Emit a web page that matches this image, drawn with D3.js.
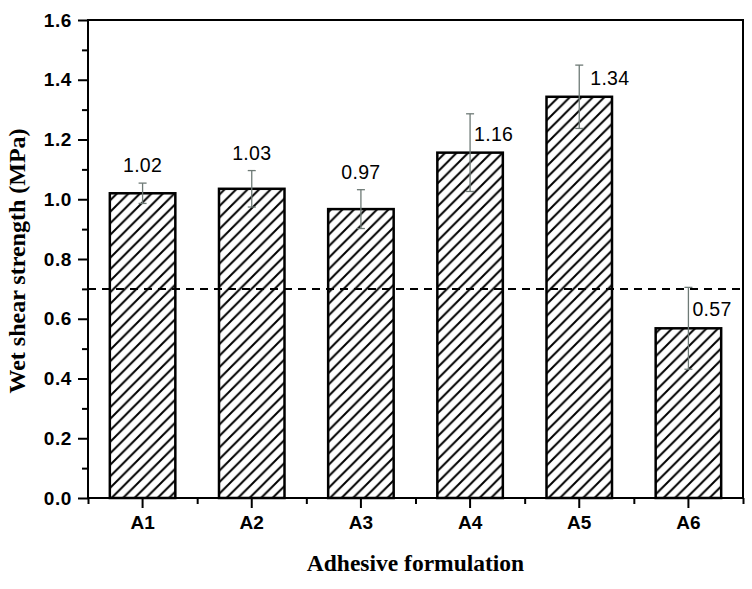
<!DOCTYPE html>
<html>
<head>
<meta charset="utf-8">
<script src="https://cdn.jsdelivr.net/npm/d3@7"></script>
<style>
  body { margin: 0; background: #fff; }
  svg { display: block; }
</style>
</head>
<body>
<div id="chart"></div>
<script>
const categories = ["A1", "A2", "A3", "A4", "A5", "A6"];
const strength = [1.02, 1.035, 0.967, 1.156, 1.343, 0.568];
const errors = [0.034, 0.061, 0.065, 0.13, 0.106, 0.137];
const valueLabels = ["1.02", "1.03", "0.97", "1.16", "1.34", "0.57"];
const yTicks = [0, 0.2, 0.4, 0.6, 0.8, 1.0, 1.2, 1.4, 1.6];
const yMinorTicks = [0.1, 0.3, 0.5, 0.7, 0.9, 1.1, 1.3, 1.5];
const threshold = 0.7;

const width = 752, height = 589;
const margin = { top: 20, right: 9, bottom: 91, left: 88 };
const sans = "Arial, 'Liberation Sans', sans-serif";
const serif = "'Times New Roman', 'Liberation Serif', serif";

const svg = d3.select("#chart").append("svg")
  .attr("width", width)
  .attr("height", height);

// hatch pattern
const pat = svg.append("defs").append("pattern")
  .attr("id", "hatch")
  .attr("patternUnits", "userSpaceOnUse")
  .attr("width", 11.5)
  .attr("height", 11.5);
pat.append("rect").attr("width", 11.5).attr("height", 11.5).attr("fill", "#fff");
pat.append("path")
  .attr("d", "M-2,2 L2,-2 M0,11.5 L11.5,0 M9.5,13.5 L13.5,9.5")
  .attr("stroke", "#000")
  .attr("stroke-width", 2);

const x = d3.scaleBand()
  .domain(categories)
  .range([margin.left, width - margin.right])
  .paddingInner(0.4)
  .paddingOuter(0.2);

const xMinor = d3.scaleLinear()
  .domain([0, categories.length])
  .range([margin.left, width - margin.right]);

const y = d3.scaleLinear()
  .domain([0, 1.6])
  .range([height - margin.bottom, margin.top]);

const data = categories.map((c, i) => ({
  cat: c, v: strength[i], e: errors[i], label: valueLabels[i], i
}));

// bars
svg.append("g")
  .selectAll("rect")
  .data(data)
  .join("rect")
  .attr("x", d => x(d.cat))
  .attr("y", d => y(d.v))
  .attr("width", x.bandwidth())
  .attr("height", d => y(0) - y(d.v))
  .attr("fill", "url(#hatch)")
  .attr("stroke", "#000")
  .attr("stroke-width", 2.5);

// threshold line
svg.append("line")
  .attr("x1", margin.left)
  .attr("x2", width - margin.right)
  .attr("y1", y(threshold))
  .attr("y2", y(threshold))
  .attr("stroke", "#000")
  .attr("stroke-width", 2)
  .attr("stroke-dasharray", "8,6");

// error bars
const eb = svg.append("g")
  .attr("stroke", "#6e7a76")
  .attr("stroke-width", 1.3);
data.forEach(d => {
  const cx = x(d.cat) + x.bandwidth() / 2;
  eb.append("line").attr("x1", cx).attr("x2", cx)
    .attr("y1", y(d.v + d.e)).attr("y2", y(d.v - d.e));
  eb.append("line").attr("x1", cx - 4).attr("x2", cx + 4)
    .attr("y1", y(d.v + d.e)).attr("y2", y(d.v + d.e));
  eb.append("line").attr("x1", cx - 4).attr("x2", cx + 4)
    .attr("y1", y(d.v - d.e)).attr("y2", y(d.v - d.e));
});

// value labels
svg.append("g")
  .selectAll("text")
  .data(data)
  .join("text")
  .attr("x", d => {
    const cx = x(d.cat) + x.bandwidth() / 2;
    return d.i < 3 ? cx : cx + (d.i === 4 ? 11 : 4);
  })
  .attr("y", d => d.i < 3 ? y(d.v + d.e) - 11 : y(d.v) - 12)
  .attr("text-anchor", d => d.i < 3 ? "middle" : "start")
  .style("font-family", sans)
  .style("font-size", "19.5px")
  .style("letter-spacing", "0.3px")
  .text(d => d.label);

// frame
svg.append("rect")
  .attr("x", margin.left)
  .attr("y", margin.top)
  .attr("width", width - margin.left - margin.right)
  .attr("height", height - margin.top - margin.bottom)
  .attr("fill", "none")
  .attr("stroke", "#000")
  .attr("stroke-width", 2);

// y axis
const yAxis = svg.append("g")
  .attr("transform", `translate(${margin.left},0)`)
  .call(d3.axisLeft(y).tickValues(yTicks).tickSize(10).tickPadding(6)
    .tickFormat(d3.format(".1f")));
yAxis.selectAll("text")
  .style("font-family", sans)
  .style("font-weight", "bold")
  .style("font-size", "19px")
  .style("letter-spacing", "0.6px");

svg.append("g")
  .attr("transform", `translate(${margin.left},0)`)
  .call(d3.axisLeft(y).tickValues(yMinorTicks).tickSize(6).tickFormat(""));

// x axis
const xAxis = svg.append("g")
  .attr("transform", `translate(0,${height - margin.bottom})`)
  .call(d3.axisBottom(x).tickSize(10).tickPadding(8));
xAxis.selectAll("text")
  .style("font-family", sans)
  .style("font-weight", "bold")
  .style("font-size", "19px");

svg.append("g")
  .attr("transform", `translate(0,${height - margin.bottom})`)
  .call(d3.axisBottom(xMinor).tickValues(d3.range(categories.length + 1)).tickSize(6).tickFormat(""));

svg.selectAll(".domain").remove();
svg.selectAll(".tick line").attr("stroke", "#000").attr("stroke-width", 2);

// axis titles
svg.append("text")
  .attr("x", (margin.left + width - margin.right) / 2)
  .attr("y", 571)
  .attr("text-anchor", "middle")
  .style("font-family", serif)
  .style("font-weight", "bold")
  .style("font-size", "23.5px")
  .text("Adhesive formulation");

svg.append("text")
  .attr("transform", `translate(25,${(margin.top + height - margin.bottom) / 2 + 2}) rotate(-90)`)
  .attr("text-anchor", "middle")
  .style("font-family", serif)
  .style("font-weight", "bold")
  .style("font-size", "24px")
  .text("Wet shear strength (MPa)");
</script>
</body>
</html>
